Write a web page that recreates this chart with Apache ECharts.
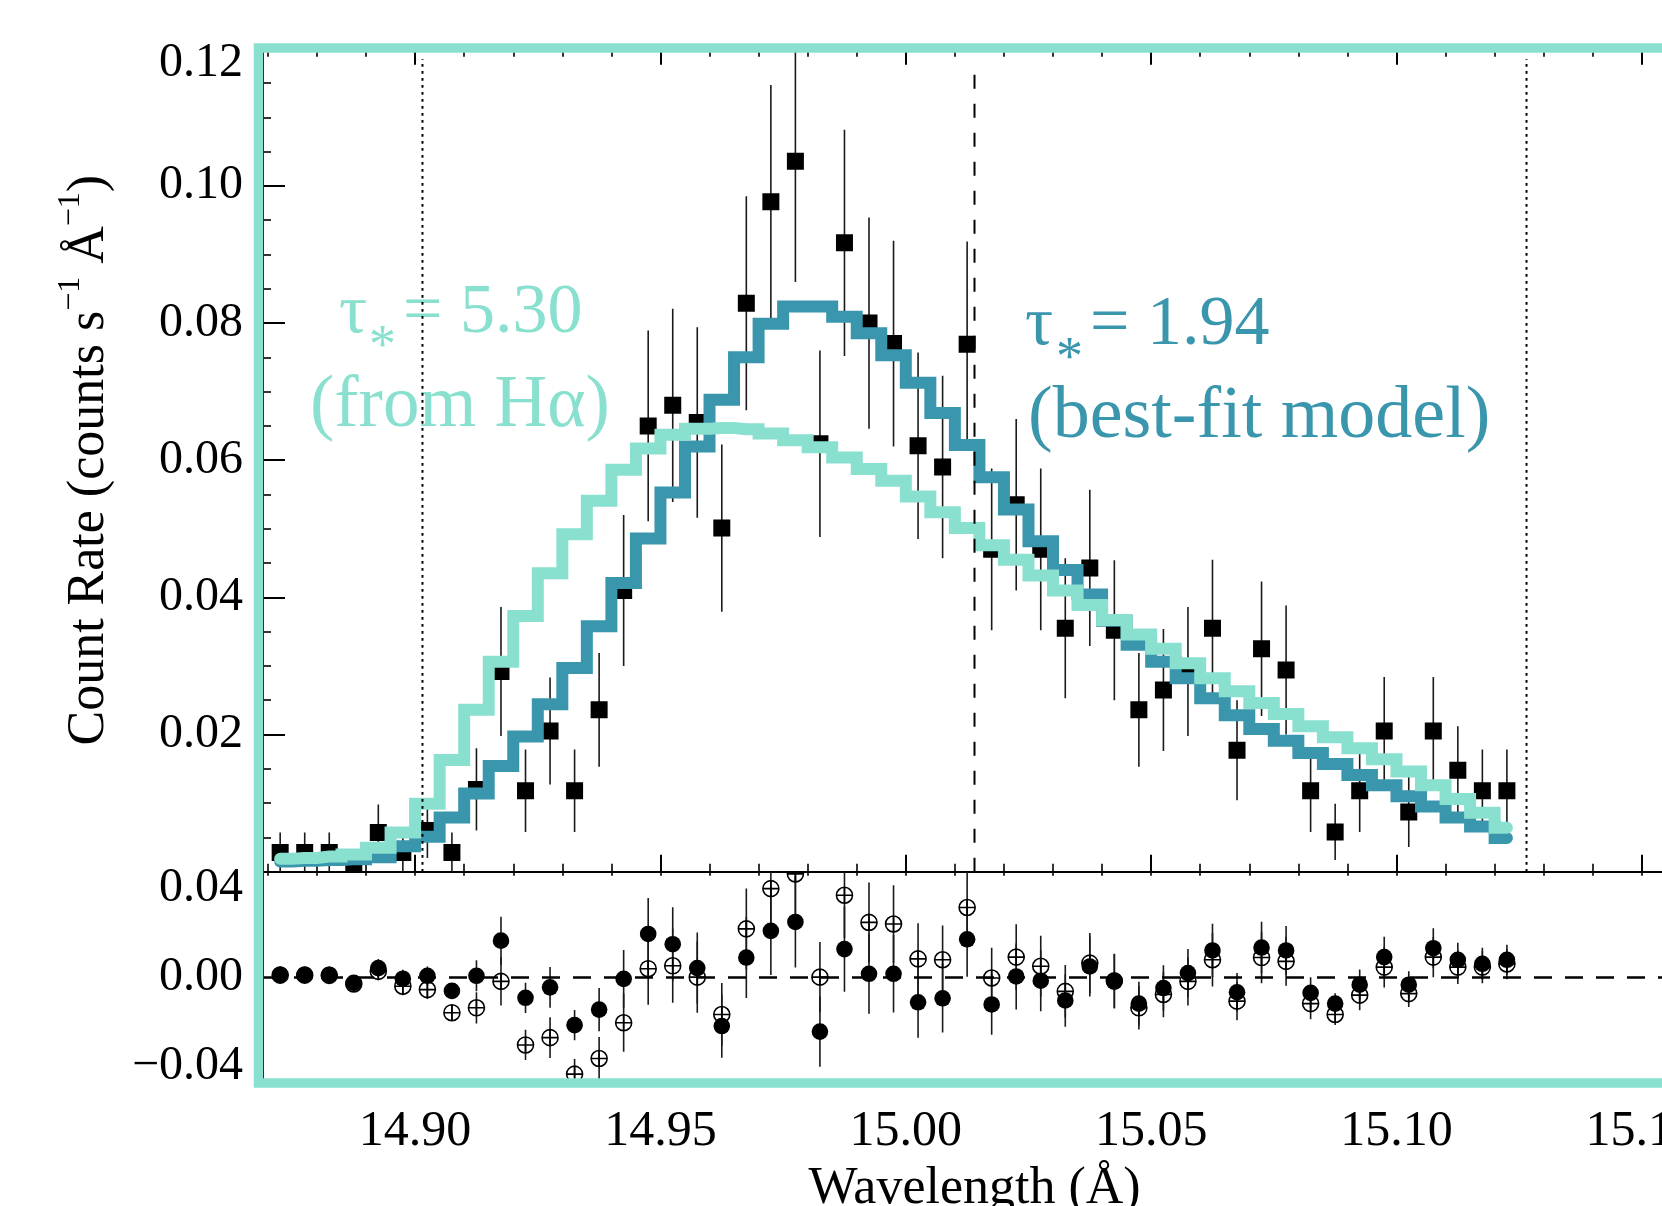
<!DOCTYPE html>
<html>
<head>
<meta charset="utf-8">
<script src="https://cdn.jsdelivr.net/npm/echarts@6/dist/echarts.min.js"></script>
<style>
html,body{margin:0;padding:0;background:#fff;}
#c{width:1662px;height:1206px;}
</style>
</head>
<body>
<div id="c"></div>
<script>
// ---------------- data ----------------
const wave = [14.8725,14.8775,14.8825,14.8875,14.8925,14.8975,14.9025,14.9075,14.9125,14.9175,
  14.9225,14.9275,14.9325,14.9375,14.9425,14.9475,14.9525,14.9575,14.9625,14.9675,
  14.9725,14.9775,14.9825,14.9875,14.9925,14.9975,15.0025,15.0075,15.0125,15.0175,
  15.0225,15.0275,15.0325,15.0375,15.0425,15.0475,15.0525,15.0575,15.0625,15.0675,
  15.0725,15.0775,15.0825,15.0875,15.0925,15.0975,15.1025,15.1075,15.1125,15.1175,15.1225];

const rate = [0.0028,0.0028,0.0028,0.0000,0.0057,0.0028,0.0060,0.0028,0.0120,0.0292,
  0.0118,0.0205,0.0118,0.0236,0.0410,0.0650,0.0680,0.0655,0.0501,0.0829,
  0.0977,0.1036,0.0624,0.0917,0.0800,0.0770,0.0621,0.0590,0.0769,0.0470,
  0.0535,0.0470,0.0355,0.0443,0.0352,0.0236,0.0265,0.0292,0.0355,0.0177,
  0.0325,0.0294,0.0118,0.0058,0.0118,0.0205,0.0087,0.0205,0.0148,0.0118,0.0118];

const rateErr = [0.0029,0.0029,0.0029,0.0000,0.0041,0.0029,0.0040,0.0029,0.0060,0.0094,
  0.0060,0.0078,0.0060,0.0083,0.0110,0.0139,0.0141,0.0139,0.0122,0.0156,
  0.0170,0.0176,0.0136,0.0165,0.0154,0.0150,0.0136,0.0133,0.0150,0.0118,
  0.0125,0.0118,0.0102,0.0114,0.0102,0.0083,0.0089,0.0094,0.0100,0.0073,
  0.0098,0.0094,0.0060,0.0041,0.0060,0.0079,0.0051,0.0079,0.0064,0.0060,0.0060];

// tau* = 1.94 (best-fit model)
const modelBest = [0.0015,0.0016,0.0017,0.0018,0.0021,0.0037,0.0051,0.0079,0.0114,0.0154,
  0.0197,0.0244,0.0297,0.0358,0.0421,0.0486,0.0553,0.0620,0.0688,0.0750,
  0.0799,0.0824,0.0824,0.0809,0.0785,0.0753,0.0713,0.0669,0.0622,0.0575,
  0.0528,0.0482,0.0440,0.0404,0.0366,0.0331,0.0306,0.0282,0.0253,0.0228,
  0.0208,0.0191,0.0173,0.0157,0.0141,0.0126,0.0110,0.0095,0.0079,0.0066,0.0049];

// tau* = 5.30 (from H-alpha)
const modelHalpha = [0.0019,0.0020,0.0022,0.0025,0.0035,0.0057,0.0099,0.0163,0.0236,0.0306,
  0.0373,0.0435,0.0492,0.0541,0.0586,0.0617,0.0637,0.0646,0.0647,0.0645,
  0.0639,0.0629,0.0619,0.0604,0.0587,0.0570,0.0547,0.0524,0.0501,0.0476,
  0.0455,0.0432,0.0410,0.0389,0.0367,0.0346,0.0325,0.0304,0.0282,0.0263,
  0.0246,0.0230,0.0212,0.0196,0.0180,0.0164,0.0146,0.0126,0.0106,0.0086,0.0064];

// residuals (lower panel)
const residBest = [0.0012,0.0012,0.0012,-0.0025,0.0042,-0.0006,0.0007,-0.0061,0.0007,0.0165,
  -0.0092,-0.0045,-0.0215,-0.0145,-0.0007,0.0195,0.0149,0.0042,-0.0219,0.0089,
  0.0209,0.0249,-0.0244,0.0127,0.0016,0.0016,-0.0112,-0.0094,0.0171,-0.0122,
  0.0004,-0.0015,-0.0104,0.0049,-0.0018,-0.0118,-0.0048,0.0019,0.0121,-0.0067,
  0.0134,0.0121,-0.0070,-0.0118,-0.0033,0.0091,-0.0033,0.0131,0.0079,0.0061,0.0079];

const residHalpha = [0.0010,0.0010,0.0009,-0.0030,0.0027,-0.0040,-0.0055,-0.0159,-0.0137,-0.0018,
  -0.0304,-0.0271,-0.0435,-0.0365,-0.0204,0.0039,0.0052,0.0001,-0.0167,0.0218,
  0.0399,0.0465,0.0001,0.0369,0.0247,0.0240,0.0083,0.0079,0.0314,-0.0003,
  0.0091,0.0050,-0.0063,0.0064,-0.0016,-0.0137,-0.0077,-0.0018,0.0079,-0.0107,
  0.0089,0.0072,-0.0118,-0.0167,-0.0080,0.0046,-0.0073,0.0091,0.0046,0.0046,0.0060];

const residErr = [0.0030,0.0030,0.0030,0.0000,0.0040,0.0040,0.0042,0.0035,0.0070,0.0108,
  0.0068,0.0092,0.0068,0.0097,0.0130,0.0162,0.0166,0.0160,0.0142,0.0182,
  0.0198,0.0205,0.0158,0.0192,0.0180,0.0174,0.0160,0.0154,0.0168,0.0136,
  0.0148,0.0137,0.0118,0.0135,0.0122,0.0098,0.0102,0.0108,0.0120,0.0086,
  0.0116,0.0110,0.0070,0.0047,0.0068,0.0092,0.0060,0.0090,0.0076,0.0072,0.0068];

// reference wavelengths: dotted (line edges) and dashed (rest wavelength)
const dottedLines = [14.9015, 15.1265];
const dashedLines = [15.014];

// axis ticks
const xMajorTicks = [14.90, 14.95, 15.00, 15.05, 15.10, 15.15];
const xMinorTicks = [14.87,14.88,14.89,14.91,14.92,14.93,14.94,14.96,14.97,14.98,14.99,
  15.01,15.02,15.03,15.04,15.06,15.07,15.08,15.09,15.11,15.12,15.13,15.14];
const lowerYTicks = [-0.04, 0.00, 0.04];

// ---------------- chart ----------------
const FONT = "'Liberation Serif','Times New Roman',serif";
const DARK = '#3996AC';
const LIGHT = '#89E0CE';
const X_MIN = 14.869, X_MAX = 15.159;

const GRID_L = 263, GRID_W = 1423;

function xAxisBase(grid, pos) {
  return {
    type: 'value', gridIndex: grid, position: pos, min: X_MIN, max: X_MAX,
    axisLine: {show: true, onZero: false, lineStyle: {color: '#000', width: 2}},
    splitLine: {show: false},
    axisLabel: {show: false},
    axisTick: {show: false}
  };
}

const xAxes = [];
// 0: upper bottom major (used by upper series)
xAxes.push(Object.assign(xAxisBase(0, 'bottom'), {
  axisTick: {show: true, inside: true, length: 17, customValues: xMajorTicks, lineStyle: {color: '#000', width: 2}}
}));
// 1: upper bottom minor
xAxes.push(Object.assign(xAxisBase(0, 'bottom'), {
  axisTick: {show: true, inside: true, length: 8, customValues: xMinorTicks, lineStyle: {color: '#000', width: 1.6}}
}));
// 2: upper top major
xAxes.push(Object.assign(xAxisBase(0, 'top'), {
  axisTick: {show: true, inside: true, length: 16, customValues: xMajorTicks, lineStyle: {color: '#000', width: 2}}
}));
// 3: upper top minor
xAxes.push(Object.assign(xAxisBase(0, 'top'), {
  axisTick: {show: true, inside: true, length: 8, customValues: xMinorTicks, lineStyle: {color: '#000', width: 1.6}}
}));
// 4: lower bottom (labels + name; used by lower series)
xAxes.push(Object.assign(xAxisBase(1, 'bottom'), {
  axisLabel: {show: true, customValues: xMajorTicks, margin: 24, color: '#000', fontSize: 50, fontFamily: FONT,
    formatter: v => v.toFixed(2)},
  name: 'Wavelength (Å)', nameLocation: 'middle', nameGap: 80,
  nameTextStyle: {color: '#000', fontSize: 52, fontFamily: FONT}
}));
// 5: lower top ticks (pointing down)
xAxes.push(Object.assign(xAxisBase(1, 'top'), {
  axisTick: {show: true, inside: true, length: 4, customValues: xMajorTicks.concat(xMinorTicks), lineStyle: {color: '#000', width: 1.6}}
}));

const option = {
  animation: false,
  backgroundColor: '#fff',
  grid: [
    {left: GRID_L, width: GRID_W, top: 48.7, height: 823, outerBoundsMode: 'none', containLabel: false},
    {left: GRID_L, width: GRID_W, top: 871.7, height: 211.3, outerBoundsMode: 'none', containLabel: false}
  ],
  xAxis: xAxes,
  yAxis: [
    {
      type: 'value', gridIndex: 0, position: 'left', min: 0, max: 0.12, interval: 0.02,
      axisLine: {show: true, lineStyle: {color: '#000', width: 2}},
      axisTick: {show: true, inside: true, length: 22, lineStyle: {color: '#000', width: 2}},
      minorTick: {show: true, splitNumber: 4, length: 8, lineStyle: {color: '#000', width: 1.6}},
      splitLine: {show: false},
      axisLabel: {
        margin: 20, color: '#000', fontSize: 48, fontFamily: FONT,
        formatter: v => {
          if (Math.abs(v) < 1e-9) return '';
          if (Math.abs(v - 0.12) < 1e-9) return '{low|0.12}';
          return v.toFixed(2);
        },
        rich: {low: {fontSize: 48, fontFamily: FONT, color: '#000', padding: [30, 0, 0, 0]}}
      },
      name: '{a|Count Rate (counts s}{b|−1}{a| Å}{b|−1}{a|)}',
      nameLocation: 'middle', nameGap: 148, nameRotate: 90,
      nameTextStyle: {
        color: '#000', fontFamily: FONT, fontSize: 52,
        rich: {
          a: {fontSize: 52, fontFamily: FONT, color: '#000', lineHeight: 60, verticalAlign: 'bottom'},
          b: {fontSize: 32, fontFamily: FONT, color: '#000', lineHeight: 32, verticalAlign: 'top'}
        }
      }
    },
    {
      type: 'value', gridIndex: 1, position: 'left', min: -0.0475, max: 0.0475,
      axisLine: {show: true, onZero: false, lineStyle: {color: '#000', width: 2}},
      axisTick: {show: false},
      splitLine: {show: false},
      axisLabel: {
        customValues: lowerYTicks, margin: 20, color: '#000', fontSize: 48, fontFamily: FONT,
        formatter: v => (v < -1e-9 ? '−' + Math.abs(v).toFixed(2) : Math.abs(v).toFixed(2))
      }
    }
  ],
  graphic: {
    elements: [
      // annotation tau* = 5.30 (from H alpha)
      {type: 'text', z: 3, x: 339, y: 313.4, style: {text: 'τ', fill: LIGHT, font: '70px ' + FONT, textAlign: 'left', textVerticalAlign: 'middle'}},
      {type: 'text', z: 3, x: 369, y: 347.4, style: {text: '*', fill: LIGHT, font: '54px ' + FONT, textAlign: 'left', textVerticalAlign: 'middle'}},
      {type: 'text', z: 3, x: 403, y: 313.4, style: {text: '= 5.30', fill: LIGHT, font: '70px ' + FONT, textAlign: 'left', textVerticalAlign: 'middle'}},
      {type: 'text', z: 3, x: 310, y: 407, style: {text: '(from Hα)', fill: LIGHT, font: '73px ' + FONT, textAlign: 'left', textVerticalAlign: 'middle'}},
      // annotation tau* = 1.94 (best-fit model)
      {type: 'text', z: 3, x: 1025, y: 325.4, style: {text: 'τ', fill: DARK, font: '70px ' + FONT, textAlign: 'left', textVerticalAlign: 'middle'}},
      {type: 'text', z: 3, x: 1056, y: 359.4, style: {text: '*', fill: DARK, font: '54px ' + FONT, textAlign: 'left', textVerticalAlign: 'middle'}},
      {type: 'text', z: 3, x: 1090, y: 325.4, style: {text: '= 1.94', fill: DARK, font: '70px ' + FONT, textAlign: 'left', textVerticalAlign: 'middle'}},
      {type: 'text', z: 3, x: 1028, y: 418, style: {text: '(best-fit model)', fill: DARK, font: '74px ' + FONT, textAlign: 'left', textVerticalAlign: 'middle'}},
      // teal frame
      {type: 'rect', z: 50, silent: true, shape: {x: 258.5, y: 48, width: 1600, height: 1035},
        style: {fill: 'none', stroke: LIGHT, lineWidth: 9.5}}
    ]
  },
  series: []
};

const upperErrData = wave.map((w, i) => [w, rate[i], rateErr[i]]);
const upperPts = wave.map((w, i) => [w, rate[i]]);

option.series.push({
  type: 'custom', name: 'errUpper', xAxisIndex: 0, yAxisIndex: 0, clip: true, z: 2,
  encode: {x: 0, y: 1}, data: upperErrData,
  renderItem: (params, api) => {
    const x = api.value(0), y = api.value(1), e = api.value(2);
    if (!(e > 0)) return null;
    const p1 = api.coord([x, y - e]), p2 = api.coord([x, y + e]);
    return {type: 'line', shape: {x1: p1[0], y1: p1[1], x2: p2[0], y2: p2[1]},
      style: {stroke: '#1a1a1a', lineWidth: 1.6}};
  }
});
option.series.push({
  type: 'custom', name: 'data', xAxisIndex: 0, yAxisIndex: 0, clip: true, z: 2,
  encode: {x: 0, y: 1}, data: upperPts,
  renderItem: (params, api) => {
    const p = api.coord([api.value(0), api.value(1)]);
    return {type: 'rect', shape: {x: p[0] - 8.5, y: p[1] - 8.5, width: 17, height: 17}, style: {fill: '#000'}};
  }
});
option.series.push({
  type: 'line', name: 'best', xAxisIndex: 0, yAxisIndex: 0, step: 'middle', symbol: 'none', z: 3,
  data: wave.map((w, i) => [w, modelBest[i]]),
  lineStyle: {color: DARK, width: 12, cap: 'round', join: 'miter'}
});
option.series.push({
  type: 'line', name: 'halpha', xAxisIndex: 0, yAxisIndex: 0, step: 'middle', symbol: 'none', z: 3,
  data: wave.map((w, i) => [w, modelHalpha[i]]),
  lineStyle: {color: LIGHT, width: 12, cap: 'round', join: 'miter'}
});
dottedLines.forEach(x => option.series.push({
  type: 'line', xAxisIndex: 0, yAxisIndex: 0, symbol: 'none', z: 4, silent: true,
  data: [[x, 0], [x, 0.1185]],
  lineStyle: {color: '#000', width: 2, type: [2.7, 4.3]}
}));
dashedLines.forEach(x => option.series.push({
  type: 'line', xAxisIndex: 0, yAxisIndex: 0, symbol: 'none', z: 4, silent: true,
  data: [[x, 0], [x, 0.117]],
  lineStyle: {color: '#000', width: 2, type: [14, 15]}
}));

const lowerErrData = wave.map((w, i) => [w, residBest[i], residHalpha[i], residErr[i]]);
option.series.push({
  type: 'custom', name: 'errLower', xAxisIndex: 4, yAxisIndex: 1, clip: true, z: 2,
  encode: {x: 0, y: 1}, data: lowerErrData,
  markLine: {silent: true, symbol: 'none', label: {show: false},
    lineStyle: {color: '#000', width: 2.5, type: [18, 13]}, data: [{yAxis: 0}]},
  renderItem: (params, api) => {
    const x = api.value(0), f = api.value(1), o = api.value(2), e = api.value(3);
    if (!(e > 0)) return null;
    const a1 = api.coord([x, f - e]), a2 = api.coord([x, f + e]);
    const b1 = api.coord([x, o - e]), b2 = api.coord([x, o + e]);
    return {type: 'group', children: [
      {type: 'line', shape: {x1: a1[0], y1: a1[1], x2: a2[0], y2: a2[1]}, style: {stroke: '#1a1a1a', lineWidth: 1.6}},
      {type: 'line', shape: {x1: b1[0], y1: b1[1], x2: b2[0], y2: b2[1]}, style: {stroke: '#1a1a1a', lineWidth: 1.6}}
    ]};
  }
});
option.series.push({
  type: 'custom', name: 'residHalpha', xAxisIndex: 4, yAxisIndex: 1, clip: true, z: 2,
  encode: {x: 0, y: 1}, data: wave.map((w, i) => [w, residHalpha[i]]),
  renderItem: (params, api) => {
    const p = api.coord([api.value(0), api.value(1)]);
    const r = 8;
    return {type: 'group', children: [
      {type: 'circle', shape: {cx: p[0], cy: p[1], r: r}, style: {fill: 'none', stroke: '#000', lineWidth: 1.6}},
      {type: 'line', shape: {x1: p[0] - r, y1: p[1], x2: p[0] + r, y2: p[1]}, style: {stroke: '#000', lineWidth: 1.6}},
      {type: 'line', shape: {x1: p[0], y1: p[1] - r, x2: p[0], y2: p[1] + r}, style: {stroke: '#000', lineWidth: 1.6}}
    ]};
  }
});
option.series.push({
  type: 'custom', name: 'residBest', xAxisIndex: 4, yAxisIndex: 1, clip: true, z: 2,
  encode: {x: 0, y: 1}, data: wave.map((w, i) => [w, residBest[i]]),
  renderItem: (params, api) => {
    const p = api.coord([api.value(0), api.value(1)]);
    return {type: 'circle', shape: {cx: p[0], cy: p[1], r: 8.3}, style: {fill: '#000'}};
  }
});

const chart = echarts.init(document.getElementById('c'), null, {renderer: 'canvas'});
chart.setOption(option);
</script>
</body>
</html>
